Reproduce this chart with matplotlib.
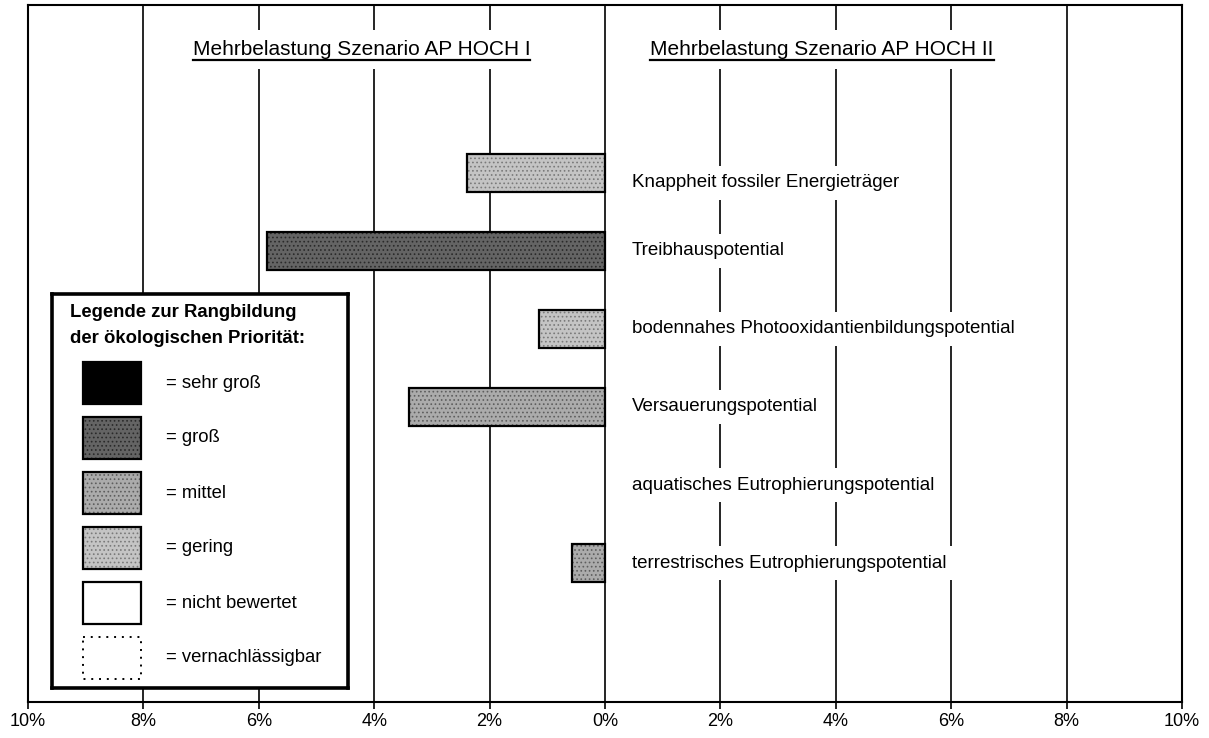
import matplotlib
matplotlib.use("Agg")
import matplotlib.pyplot as plt
from matplotlib.patches import Rectangle
from matplotlib.lines import Line2D
from matplotlib import font_manager

# --- data -------------------------------------------------------------
kategorien = [
    "Knappheit fossiler Energieträger",
    "Treibhauspotential",
    "bodennahes Photooxidantienbildungspotential",
    "Versauerungspotential",
    "aquatisches Eutrophierungspotential",
    "terrestrisches Eutrophierungspotential",
]
# Mehrbelastung in % (Szenario AP HOCH I, nach links aufgetragen)
mehrbelastung_hoch_1 = [2.4, 5.85, 1.15, 3.4, 0.0, 0.58]
prioritaet = ["gering", "groß", "gering", "mittel", None, "mittel"]

titel_links = "Mehrbelastung Szenario AP HOCH I"
titel_rechts = "Mehrbelastung Szenario AP HOCH II"

legende_titel = "Legende zur Rangbildung\nder ökologischen Priorität:"
legende_stufen = ["sehr groß", "groß", "mittel", "gering", "nicht bewertet", "vernachlässigbar"]

xticks = [-10, -8, -6, -4, -2, 0, 2, 4, 6, 8, 10]

# fill colour + dot colour per priority
stil = {
    "sehr groß": ("#000000", "#000000"),
    "groß": ("#646464", "#2a2a2a"),
    "mittel": ("#ababab", "#5e5e5e"),
    "gering": ("#c4c4c4", "#7a7a7a"),
}

avail = {f.name for f in font_manager.fontManager.ttflist}
FONT = "Liberation Sans" if "Liberation Sans" in avail else "DejaVu Sans"
plt.rcParams["font.family"] = FONT
plt.rcParams["hatch.linewidth"] = 0.7

W, H = 1209, 738
fig = plt.figure(figsize=(W / 100, H / 100), dpi=100)
ax = fig.add_axes([28 / W, (H - 702) / H, 1154 / W, 697 / H])

ypos = list(range(len(kategorien)))
ax.set_xlim(-10, 10)
ax.set_ylim(6.78, -2.15)

for y, wert, prio in zip(ypos, mehrbelastung_hoch_1, prioritaet):
    if wert > 0 and prio is not None:
        fc, dc = stil[prio]
        ax.barh(y, -wert, height=0.49, color=fc, edgecolor=dc, hatch="....",
                linewidth=0, zorder=3)
        ax.barh(y, -wert, height=0.49, fill=False, edgecolor="black",
                linewidth=1.6, zorder=4)

for i, (y, name) in enumerate(zip(ypos, kategorien)):
    dy = 0.13 if i == 0 else 0.0
    ax.text(0.47, y + dy, name, fontsize=13.5, ha="left", va="center", zorder=5,
            bbox=dict(boxstyle="square,pad=0.45", fc="white", ec="none"))

ax.set_xticks(xticks)
ax.set_xticklabels([f"{abs(v)}%" for v in xticks], fontsize=13)
ax.set_yticks([])
ax.grid(axis="x", color="black", linewidth=1.2, zorder=1)
ax.set_axisbelow(True)
ax.tick_params(axis="x", direction="out", length=5, width=1.2, pad=3)
for s in ax.spines.values():
    s.set_linewidth(1.5)

# titles (underlined)
titles = []
for xc, t in [(-4.22, titel_links), (3.76, titel_rechts)]:
    tt = ax.text(xc, -1.58, t, fontsize=15, ha="center", va="center",
                 zorder=5, bbox=dict(boxstyle="square,pad=0.5", fc="white", ec="none"))
    titles.append(tt)

# legend box
lg = fig.add_axes([52 / W, (H - 688) / H, 296 / W, 394 / H])
lg.set_xlim(0, 296)
lg.set_ylim(394, 0)
lg.set_xticks([])
lg.set_yticks([])
for s in lg.spines.values():
    s.set_linewidth(2.6)
lg.text(18, 10, legende_titel, fontsize=13.3, fontweight="bold", ha="left", va="top",
        linespacing=1.7)
for i, stufe in enumerate(legende_stufen):
    top = 68 + i * 55
    if stufe in stil:
        fc, dc = stil[stufe]
        lg.add_patch(Rectangle((31, top), 58, 42, facecolor=fc, edgecolor=dc,
                               hatch="....", linewidth=0))
        lg.add_patch(Rectangle((31, top), 58, 42, fill=False, edgecolor="black",
                               linewidth=1.6))
    elif stufe == "nicht bewertet":
        lg.add_patch(Rectangle((31, top), 58, 42, fill=False, edgecolor="black",
                               linewidth=1.6))
    else:
        lg.add_patch(Rectangle((31, top), 58, 42, fill=False, edgecolor="black",
                               linewidth=1.4, linestyle=(0, (1, 3))))
    lg.text(114, top + 21, "= " + stufe, fontsize=13.3, ha="left", va="center")

# underline titles
fig.canvas.draw()
r = fig.canvas.get_renderer()
for tt in titles:
    bb = tt.get_window_extent(r)
    fig.add_artist(Line2D([bb.x0, bb.x1], [bb.y0 - 1, bb.y0 - 1], transform=None,
                          color="black", linewidth=1.6, zorder=10))

fig.savefig("out.png", dpi=100, facecolor="white")
